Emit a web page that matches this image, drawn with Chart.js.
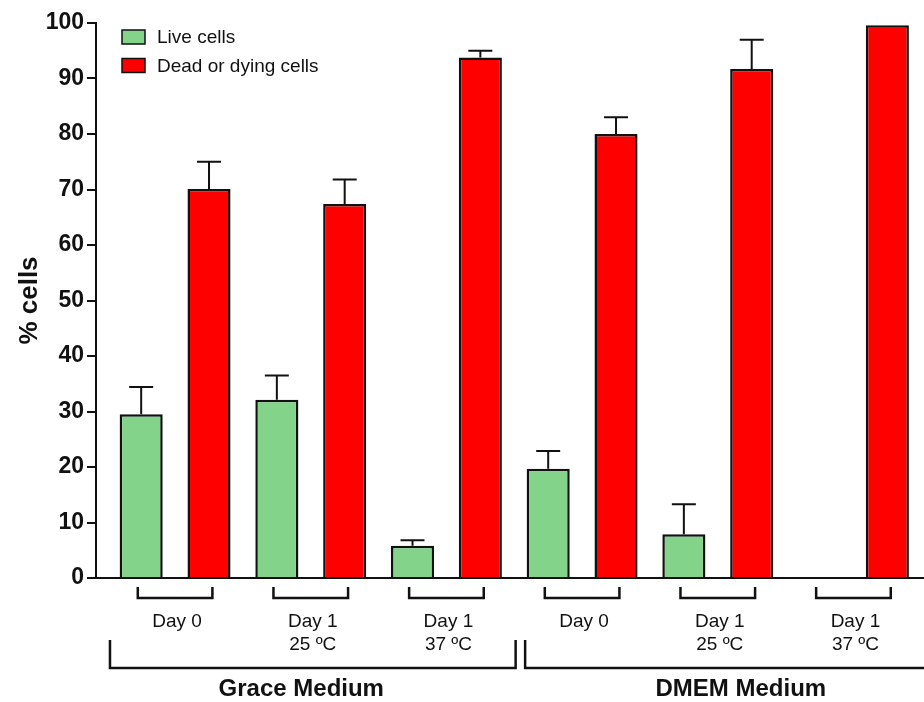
<!DOCTYPE html>
<html>
<head>
<meta charset="utf-8">
<script src="https://cdn.jsdelivr.net/npm/chart.js@4"></script>
<style>
  html, body { margin: 0; padding: 0; background: #fff; }
  #wrap { width: 924px; height: 702px; }
</style>
</head>
<body>
<div id="wrap"><canvas id="cellsChart"></canvas></div>
<script>
// groups along x (one per condition)
const conditions = [['Day 0'], ['Day 1', '25 ºC'], ['Day 1', '37 ºC'], ['Day 0'], ['Day 1', '25 ºC'], ['Day 1', '37 ºC']];
const media = ['Grace Medium', 'DMEM Medium'];

const liveCells = [29.5, 32.1, 5.8, 19.7, 7.9, 0];
const liveErr = [4.9, 4.4, 1.0, 3.2, 5.4, 0];
const deadCells = [70.1, 67.4, 93.8, 80.0, 91.7, 99.6];
const deadErr = [4.9, 4.4, 1.2, 3.0, 5.3, 0];

const yTicks = [0, 10, 20, 30, 40, 50, 60, 70, 80, 90, 100];

const GREEN = '#84d38b';
const RED = '#ff0000';
const FONT = '"Liberation Sans", Arial, sans-serif';

const toPoints = arr => arr.map((v, i) => ({ x: i, y: v }));

/* error bars, upper half only */
const errorBars = {
    id: 'errorBars',
    afterDatasetsDraw(chart) {
        const { ctx, scales: { y } } = chart;
        ctx.save();
        ctx.strokeStyle = '#111';
        ctx.lineWidth = 2;
        chart.data.datasets.forEach((ds, di) => {
            chart.getDatasetMeta(di).data.forEach((bar, i) => {
                const e = ds.errors[i];
                if (!e) return;
                const top = y.getPixelForValue(ds.data[i].y + e);
                ctx.beginPath();
                ctx.moveTo(bar.x, bar.y);
                ctx.lineTo(bar.x, top);
                ctx.moveTo(bar.x - 12, top);
                ctx.lineTo(bar.x + 12, top);
                ctx.stroke();
            });
        });
        ctx.restore();
    }
};

/* legend box in upper left */
const boxLegend = {
    id: 'boxLegend',
    afterDraw(chart) {
        const { ctx } = chart;
        ctx.save();
        ctx.font = '19px ' + FONT;
        ctx.textBaseline = 'middle';
        chart.data.datasets.forEach((ds, i) => {
            const yy = 30 + i * 28.5;
            ctx.fillStyle = ds.backgroundColor;
            ctx.fillRect(122, yy, 23, 14);
            ctx.strokeStyle = '#111';
            ctx.lineWidth = 1.5;
            ctx.strokeRect(122, yy, 23, 14);
            ctx.fillStyle = '#111';
            ctx.fillText(ds.label, 157, yy + 8);
        });
        ctx.restore();
    }
};

/* brackets and condition / medium labels under the axis */
const groupLabels = {
    id: 'groupLabels',
    afterDraw(chart) {
        const { ctx, scales: { x } } = chart;
        const unit = x.getPixelForValue(1) - x.getPixelForValue(0);
        ctx.save();
        ctx.strokeStyle = '#111';
        ctx.fillStyle = '#111';
        ctx.lineWidth = 2.5;
        ctx.textAlign = 'center';
        ctx.textBaseline = 'middle';
        ctx.font = '19px ' + FONT;
        conditions.forEach((lines, i) => {
            const cx = x.getPixelForValue(i);
            const hw = unit * 0.275;
            ctx.beginPath();
            ctx.moveTo(cx - hw, 587);
            ctx.lineTo(cx - hw, 598);
            ctx.lineTo(cx + hw, 598);
            ctx.lineTo(cx + hw, 587);
            ctx.stroke();
            lines.forEach((t, j) => ctx.fillText(t, cx + 2, 622 + j * 23));
        });
        const spans = [[-0.48, 2.51], [2.58, 5.76]];
        const textAt = [0.93, 4.17];
        ctx.font = 'bold 24px ' + FONT;
        media.forEach((name, i) => {
            const l = x.getPixelForValue(spans[i][0]);
            const r = x.getPixelForValue(spans[i][1]);
            ctx.beginPath();
            ctx.moveTo(l, 640);
            ctx.lineTo(l, 668);
            ctx.lineTo(r, 668);
            ctx.lineTo(r, 640);
            ctx.stroke();
            ctx.fillText(name, x.getPixelForValue(textAt[i]), 689);
        });
        ctx.restore();
    }
};

new Chart(document.getElementById('cellsChart'), {
    type: 'bar',
    data: {
        datasets: [
            {
                label: 'Live cells',
                data: toPoints(liveCells),
                errors: liveErr,
                backgroundColor: GREEN,
                borderColor: '#111',
                borderWidth: 2.5,
                borderSkipped: 'bottom'
            },
            {
                label: 'Dead or dying cells',
                data: toPoints(deadCells),
                errors: deadErr,
                backgroundColor: RED,
                borderColor: '#111',
                borderWidth: 2.5,
                borderSkipped: 'bottom'
            }
        ]
    },
    options: {
        responsive: true,
        maintainAspectRatio: false,
        animation: false,
        categoryPercentage: 1,
        barPercentage: 0.635,
        layout: { padding: { top: 23, left: 0, right: 0, bottom: 0 } },
        plugins: {
            legend: { display: false },
            tooltip: { enabled: false }
        },
        scales: {
            x: {
                type: 'linear',
                min: -0.583,
                max: 5.52,
                offset: false,
                afterBuildTicks: s => { s.ticks = conditions.map((c, i) => ({ value: i })); },
                grid: { display: false },
                ticks: { display: false },
                border: { display: true, color: '#111', width: 2 },
                afterFit: s => { s.height = 124; }
            },
            y: {
                min: 0,
                max: 100,
                afterBuildTicks: s => { s.ticks = yTicks.map(v => ({ value: v })); },
                grid: { drawOnChartArea: false, drawTicks: true, tickLength: 9, color: '#111', lineWidth: 2 },
                border: { display: true, color: '#111', width: 2 },
                ticks: { color: '#111', padding: 3, font: { family: FONT, size: 23, weight: 'bold' } },
                title: {
                    display: true,
                    text: '% cells',
                    color: '#111',
                    padding: { top: 14, bottom: 0 },
                    font: { family: FONT, size: 26, weight: 'bold' }
                },
                afterFit: s => { s.width = 96; }
            }
        }
    },
    plugins: [errorBars, boxLegend, groupLabels]
});
</script>
</body>
</html>
